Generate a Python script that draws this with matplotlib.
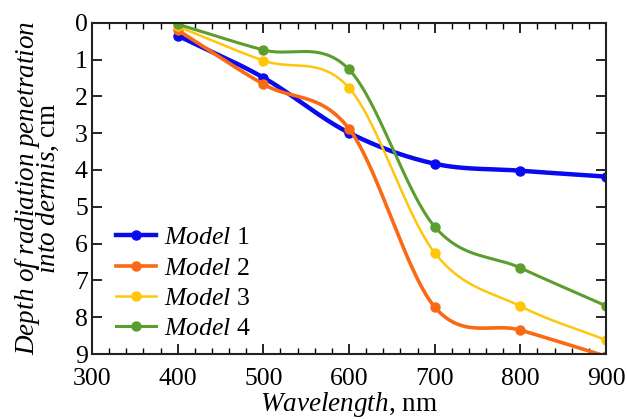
import numpy as np
import matplotlib
matplotlib.use('Agg')
import matplotlib.pyplot as plt
from matplotlib.ticker import MultipleLocator

plt.rcParams['font.family'] = 'Liberation Serif'
plt.rcParams['mathtext.fontset'] = 'custom'
plt.rcParams['mathtext.rm'] = 'Liberation Serif'
plt.rcParams['mathtext.it'] = 'Liberation Serif:italic'

# data
wavelength = [400, 500, 600, 700, 800, 900]
model1 = [0.35, 1.49, 2.99, 3.83, 4.02, 4.18]
model2 = [0.2, 1.67, 2.88, 7.72, 8.35, 9.06]
model3 = [0.1, 1.03, 1.77, 6.25, 7.70, 8.62]
model4 = [0.04, 0.74, 1.27, 5.54, 6.66, 7.69]

names = ['1', '2', '3', '4']
colors = ['#0a0af0', '#fa6a14', '#ffc60a', '#5c9e2e']
widths = [3.2, 2.6, 1.8, 2.2]


def smooth(x, y, n=40):
    # catmull-rom style smoothing (like excel "smoothed line")
    x = np.asarray(x, float)
    y = np.asarray(y, float)
    px = np.concatenate([[2 * x[0] - x[1]], x, [2 * x[-1] - x[-2]]])
    py = np.concatenate([[2 * y[0] - y[1]], y, [2 * y[-1] - y[-2]]])
    xs, ys = [], []
    t = np.linspace(0, 1, n)
    for i in range(1, len(px) - 2):
        for p, out in ((px, xs), (py, ys)):
            p0, p1, p2, p3 = p[i - 1], p[i], p[i + 1], p[i + 2]
            out.append(0.5 * ((2 * p1) + (-p0 + p2) * t
                              + (2 * p0 - 5 * p1 + 4 * p2 - p3) * t ** 2
                              + (-p0 + 3 * p1 - 3 * p2 + p3) * t ** 3))
    return np.concatenate(xs), np.concatenate(ys)


fig = plt.figure(figsize=(6.27, 4.19), dpi=100)
ax = fig.add_axes([0.1467, 0.155, 0.8198, 0.7908])

for vals, name, c, lw in zip([model1, model2, model3, model4], names, colors, widths):
    sx, sy = smooth(wavelength, vals)
    ax.plot(sx, sy, color=c, lw=lw)
    ax.plot(wavelength, vals, 'o', color=c, ms=6.5)
    ax.plot([], [], '-o', color=c, lw=lw, ms=6.5, label=r'$\mathit{Model}$ ' + name)

ax.set_xlim(300, 900)
ax.set_ylim(9, 0)
ax.xaxis.set_major_locator(MultipleLocator(100))
ax.xaxis.set_minor_locator(MultipleLocator(20))
ax.yaxis.set_major_locator(MultipleLocator(1))
ax.tick_params(which='both', direction='in', top=True, right=True, labelsize=18.5)
ax.tick_params(axis='x', pad=10)
ax.tick_params(axis='y', pad=3)
ax.tick_params(which='major', length=7, width=1.2)
ax.tick_params(which='minor', length=4, width=1.0)
for s in ax.spines.values():
    s.set_linewidth(1.5)
    s.set_color('#222222')

ax.set_xlabel(r'$\mathit{Wavelength}$, nm', fontsize=19.5, labelpad=0)
ax.set_ylabel('$\\mathit{Depth\\ of\\ radiation\\ penetration}$\n$\\mathit{into\\ dermis}$, cm',
              fontsize=19.5, labelpad=10, linespacing=0.62)

ax.legend(loc='lower left', bbox_to_anchor=(0.02, 0.0), frameon=False, fontsize=18.5,
          handlelength=1.55, handletextpad=0.3, labelspacing=0.28, borderaxespad=0.15)

fig.savefig('out.png', dpi=100)
